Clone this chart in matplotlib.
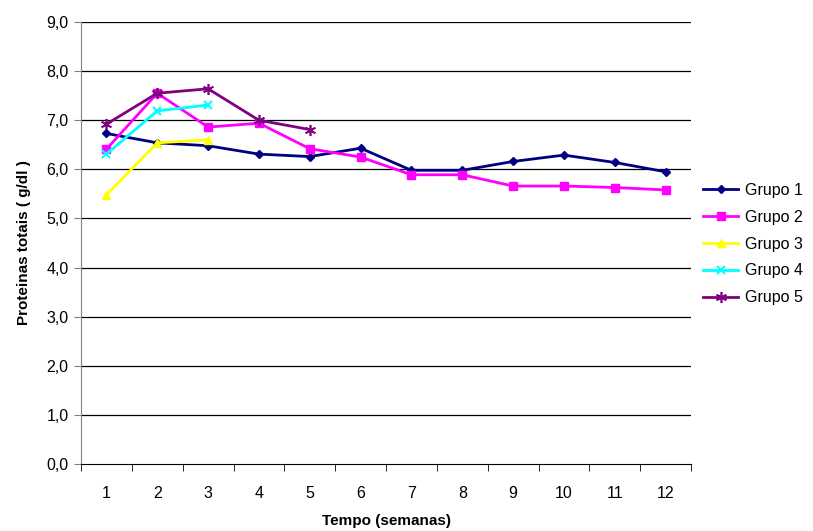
import matplotlib
matplotlib.use("Agg")
import matplotlib.pyplot as plt
import numpy as np

plt.rcParams['font.family'] = ['Liberation Sans', 'DejaVu Sans']

semanas = list(range(1, 13))
grupo1 = [6.73, 6.54, 6.48, 6.31, 6.26, 6.43, 5.98, 5.98, 6.16, 6.29, 6.14, 5.95]
grupo2 = [6.41, 7.55, 6.86, 6.94, 6.42, 6.25, 5.89, 5.89, 5.66, 5.66, 5.63, 5.58]
grupo3 = [5.48, 6.54, 6.60]
grupo4 = [6.31, 7.19, 7.31]
grupo5 = [6.92, 7.55, 7.64, 7.00, 6.81]
yticks = np.arange(0, 9.01, 1.0)

fig = plt.figure(figsize=(8.13, 5.31), dpi=100)
ax = fig.add_axes([81/813, 1 - 464/531, (691 - 81)/813, (464 - 22)/531])

series = [
    ("Grupo 1", grupo1, "#000080", "D", 4.5, 1.0),
    ("Grupo 2", grupo2, "#FF00FF", "s", 5.5, 1.0),
    ("Grupo 3", grupo3, "#FFFF00", "^", 6, 1.0),
    ("Grupo 4", grupo4, "#00FFFF", "x", 6, 1.5),
    ("Grupo 5", grupo5, "#800080", (6, 2, 0), 8, 1.2),
]
for name, vals, col, mk, ms, mew in series:
    xs = semanas[:len(vals)]
    ax.plot(xs, vals, color=col, marker=mk, markersize=ms, linewidth=2,
            markeredgewidth=mew, label=name)

ax.set_xlim(0.5, 12.5)
ax.set_ylim(0, 9)
ax.set_yticks(yticks)
ax.set_yticklabels([f"{v:.1f}".replace(".", ",") for v in yticks])
ax.set_xticks(semanas)
ax.set_xticks(np.arange(0.5, 12.6, 1), minor=True)
ax.tick_params(axis='x', which='major', length=0, pad=16)
ax.tick_params(axis='x', which='minor', length=5, color='black')
ax.tick_params(axis='y', length=5, color='gray', pad=4)
ax.tick_params(labelsize=11.5)
for g in yticks[1:]:
    ax.axhline(g, color='black', linewidth=0.9, zorder=0)
ax.spines['top'].set_visible(False)
ax.spines['right'].set_visible(False)
ax.spines['left'].set_color('gray')
ax.spines['bottom'].set_color('black')
ax.set_xlabel("Tempo (semanas)", fontsize=11, fontweight='bold')
ax.set_ylabel("Proteinas totais ( g/dl )", fontsize=11, fontweight='bold')
ax.xaxis.set_label_coords(0.5, (464 - 514) / 442)
ax.yaxis.set_label_coords((31 - 81) / 610, 0.5)

fig.legend(loc='center left', bbox_to_anchor=(703/813, 1 - 244/531), frameon=False,
           fontsize=11.5, handlelength=2.2, handletextpad=0.4, labelspacing=0.75,
           borderaxespad=0, borderpad=0)

fig.savefig("out.png", dpi=100)
